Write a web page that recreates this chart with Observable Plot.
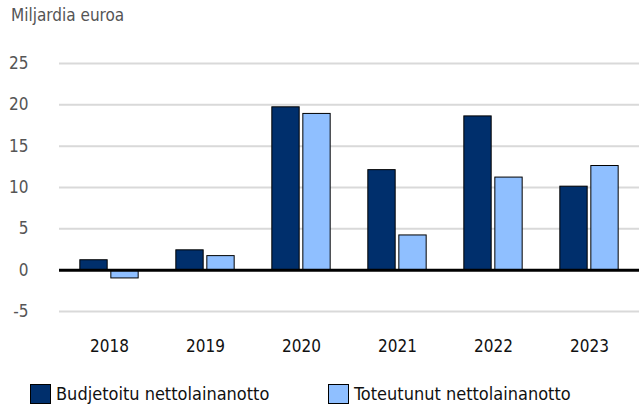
<!DOCTYPE html>
<html>
<head>
<meta charset="utf-8">
<script src="https://cdn.jsdelivr.net/npm/d3@7"></script>
<script src="https://cdn.jsdelivr.net/npm/@observablehq/plot@0.6"></script>
<style>
  html, body { margin: 0; padding: 0; background: #fff; }
  body { width: 639px; height: 410px; overflow: hidden; font-family: "DejaVu Sans Condensed", "Liberation Sans Narrow", sans-serif; }
  #wrap { position: relative; width: 639px; height: 410px; }
  #title { position: absolute; left: 11px; top: 5px; font-size: 17px; color: #555; }
  #chart { position: absolute; left: 0; top: 0; }
  .item { position: absolute; top: 383px; display: flex; align-items: center; font-size: 18px; color: #111; white-space: nowrap; }
  .sw { width: 19px; height: 18px; border: 1px solid #000; margin-right: 5px; }
</style>
</head>
<body>
<div id="wrap">
  <div id="chart"></div>
  <div id="title">Miljardia euroa</div>
  <div id="legend"></div>
</div>
<script>
const years = ["2018", "2019", "2020", "2021", "2022", "2023"];
const seriesNames = ["Budjetoitu nettolainanotto", "Toteutunut nettolainanotto"];
const budjetoitu = [1.2, 2.4, 19.7, 12.1, 18.6, 10.1];
const toteutunut = [-1.0, 1.7, 18.9, 4.2, 11.2, 12.6];
const yTicks = [-5, 0, 5, 10, 15, 20, 25];
const colors = ["#002f6c", "#8fbfff"];

const dataB = years.map((y, i) => ({year: y, value: budjetoitu[i]}));
const dataT = years.map((y, i) => ({year: y, value: toteutunut[i]}));

const W = 639, marginLeft = 59, marginRight = 0;
const band = (W - marginLeft - marginRight) / years.length;
const barW = 28, gap = 3;
const inset = (band - barW) / 2;
const off = (barW + gap) / 2;

const chart = Plot.plot({
  width: W,
  height: 375,
  marginLeft,
  marginRight,
  marginTop: 63,
  marginBottom: 64,
  style: {fontFamily: '"DejaVu Sans Condensed", "Liberation Sans Narrow", sans-serif', fontSize: "17px", background: "transparent"},
  x: {domain: years, padding: 0, label: null},
  y: {domain: [-5, 25], ticks: yTicks, label: null},
  marks: [
    Plot.gridY(yTicks.filter(d => d !== 0), {stroke: "#d9d9d9", strokeOpacity: 1, strokeWidth: 2}),
    Plot.barY(dataB, {x: "year", y: "value", fill: colors[0], stroke: "#000", strokeWidth: 1, insetLeft: inset, insetRight: inset, dx: -off}),
    Plot.barY(dataT, {x: "year", y: "value", fill: colors[1], stroke: "#000", strokeWidth: 1, insetLeft: inset, insetRight: inset, dx: off}),
    Plot.ruleY([0], {stroke: "#000", strokeWidth: 3}),
    Plot.axisY({ticks: yTicks, tickFormat: d => String(d), tickSize: 0, tickPadding: 31, fill: "#555", fontSize: 17}),
    Plot.axisX({tickSize: 0, tickPadding: 28, fill: "#111", fontSize: 17})
  ]
});
document.getElementById("chart").appendChild(chart);

const legend = document.getElementById("legend");
const legendLeft = [30, 328];
seriesNames.forEach((name, i) => {
  const it = document.createElement("div");
  it.className = "item";
  it.style.left = legendLeft[i] + "px";
  const sw = document.createElement("div");
  sw.className = "sw";
  sw.style.background = colors[i];
  const t = document.createElement("span");
  t.textContent = name;
  it.appendChild(sw);
  it.appendChild(t);
  legend.appendChild(it);
});
</script>
</body>
</html>
